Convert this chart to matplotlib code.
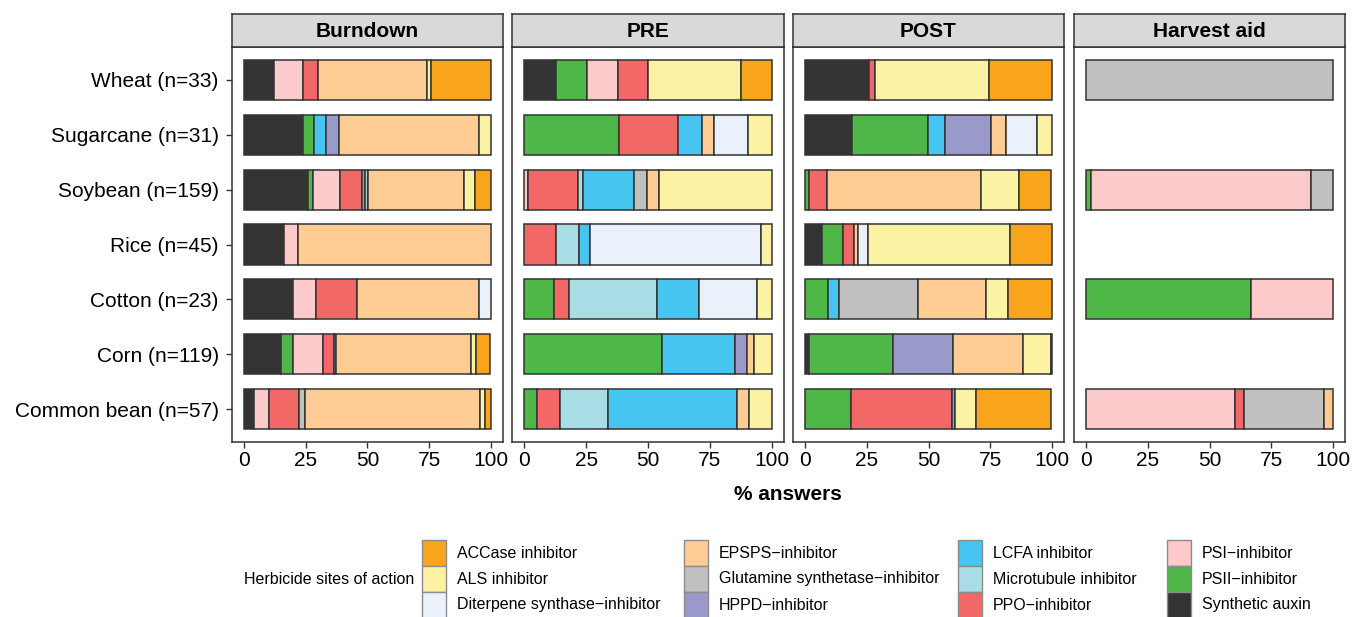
import matplotlib.pyplot as plt
from matplotlib.patches import Rectangle

plt.rcParams['font.family'] = ['Liberation Sans', 'DejaVu Sans']

# crops, top to bottom
crops = ['Wheat (n=33)', 'Sugarcane (n=31)', 'Soybean (n=159)', 'Rice (n=45)',
         'Cotton (n=23)', 'Corn (n=119)', 'Common bean (n=57)']

# sites of action, in stacking order (left to right)
moa = ['Synthetic auxin', 'PSII\u2212inhibitor', 'PSI\u2212inhibitor', 'PPO\u2212inhibitor',
       'Microtubule inhibitor', 'LCFA inhibitor', 'HPPD\u2212inhibitor',
       'Glutamine synthetase\u2212inhibitor', 'EPSPS\u2212inhibitor',
       'Diterpene synthase\u2212inhibitor', 'ALS inhibitor', 'ACCase inhibitor']
moa_colors = ['#333333', '#4FB748', '#FCCACA', '#F26867', '#A8DDE5', '#45C5F0',
              '#9999CA', '#C0C0C0', '#FFCD93', '#EBF1FA', '#FBF2A4', '#F9A51C']
# legend goes the other way round
legend_order = list(range(len(moa)))[::-1]

timings = ['Burndown', 'PRE', 'POST', 'Harvest aid']

# % answers per site of action, one value per crop (same order as crops)
burndown = {
    'Synthetic auxin': [12.1, 23.8, 25.8, 16.2, 19.8, 14.8, 3.9],
    'PSII\u2212inhibitor': [0, 4.5, 2.0, 0, 0, 5.1, 0],
    'PSI\u2212inhibitor': [11.8, 0, 11.1, 5.7, 9.4, 11.9, 6.1],
    'PPO\u2212inhibitor': [6.0, 0, 9.0, 0, 16.6, 4.7, 12.1],
    'LCFA inhibitor': [0, 5.0, 1.1, 0, 0, 0.9, 0],
    'HPPD\u2212inhibitor': [0, 5.0, 0, 0, 0, 0, 0],
    'Glutamine synthetase\u2212inhibitor': [0, 0, 1.2, 0, 0, 0, 2.4],
    'EPSPS\u2212inhibitor': [44.1, 56.9, 39.0, 78.1, 49.3, 54.7, 71.0],
    'Diterpene synthase\u2212inhibitor': [0, 0, 0, 0, 4.9, 0, 0],
    'ALS inhibitor': [1.9, 4.9, 4.6, 0, 0, 2.0, 2.3],
    'ACCase inhibitor': [24.1, 0, 6.2, 0, 0, 5.8, 2.2],
}
pre = {
    'Synthetic auxin': [12.8, 0, 0, 0, 0, 0, 0],
    'PSII\u2212inhibitor': [12.5, 38.4, 0, 0, 12.0, 55.5, 5.1],
    'PSI\u2212inhibitor': [12.4, 0, 1.6, 0, 0, 0, 0],
    'PPO\u2212inhibitor': [12.4, 23.7, 20.0, 12.8, 6.0, 0, 9.3],
    'Microtubule inhibitor': [0, 0, 2.0, 9.1, 35.8, 0, 19.4],
    'LCFA inhibitor': [0, 9.7, 20.7, 4.6, 16.8, 29.7, 52.0],
    'HPPD\u2212inhibitor': [0, 0, 0, 0, 0, 4.8, 0],
    'Glutamine synthetase\u2212inhibitor': [0, 0, 5.1, 0, 0, 0, 0],
    'EPSPS\u2212inhibitor': [0, 4.7, 5.0, 0, 0, 2.7, 5.0],
    'Diterpene synthase\u2212inhibitor': [0, 14.1, 0, 69.0, 23.5, 0, 0],
    'ALS inhibitor': [37.4, 9.4, 45.6, 4.6, 5.9, 7.3, 9.3],
    'ACCase inhibitor': [12.6, 0, 0, 0, 0, 0, 0],
}
post = {
    'Synthetic auxin': [25.9, 18.9, 0, 6.9, 0, 1.3, 0],
    'PSII\u2212inhibitor': [0, 30.9, 1.3, 8.4, 9.2, 34.3, 18.6],
    'PPO\u2212inhibitor': [2.2, 0, 7.4, 4.3, 0, 0, 40.9],
    'LCFA inhibitor': [0, 6.9, 0, 0, 4.5, 0, 1.3],
    'HPPD\u2212inhibitor': [0, 18.6, 0, 0, 0, 24.2, 0],
    'Glutamine synthetase\u2212inhibitor': [0, 0, 0, 0, 32.0, 0, 0],
    'EPSPS\u2212inhibitor': [0, 6.3, 62.5, 1.8, 27.7, 28.7, 0],
    'Diterpene synthase\u2212inhibitor': [0, 12.3, 0, 4.0, 0, 0, 0],
    'ALS inhibitor': [46.4, 6.1, 15.5, 57.6, 9.0, 11.1, 8.6],
    'ACCase inhibitor': [25.5, 0, 13.2, 17.0, 17.7, 0.4, 30.5],
}
harvest = {
    'PSII\u2212inhibitor': [0, 0, 2.0, 0, 66.9, 0, 0],
    'PSI\u2212inhibitor': [0, 0, 89.3, 0, 33.1, 0, 60.2],
    'PPO\u2212inhibitor': [0, 0, 0, 0, 0, 0, 4.0],
    'Glutamine synthetase\u2212inhibitor': [100.0, 0, 8.7, 0, 0, 0, 32.1],
    'EPSPS\u2212inhibitor': [0, 0, 0, 0, 0, 0, 3.7],
}
tables = [burndown, pre, post, harvest]

W, H = 1352, 617
fig = plt.figure(figsize=(W / 100, H / 100), dpi=100)


def px_axes(x0, y0, x1, y1):
    return fig.add_axes([x0 / W, 1 - y1 / H, (x1 - x0) / W, (y1 - y0) / H])


panel_x = [(232, 503), (512, 784), (793, 1064), (1074, 1345)]
edge = '#333333'
ypos = [len(crops) - i for i in range(len(crops))]

for k, (title, table) in enumerate(zip(timings, tables)):
    x0, x1 = panel_x[k]
    ax = px_axes(x0, 47, x1, 442)
    cum = [0.0] * len(crops)
    for name, col in zip(moa, moa_colors):
        vals = table.get(name, [0] * len(crops))
        for i, v in enumerate(vals):
            if v > 0:
                ax.barh(ypos[i], v, left=cum[i], height=0.73, color=col,
                        edgecolor=edge, linewidth=1.1)
            cum[i] += v
    ax.set_xlim(-5, 105)
    ax.set_ylim(0.4, len(crops) + 0.6)
    ax.set_xticks([0, 25, 50, 75, 100])
    ax.set_yticks(ypos)
    if k == 0:
        ax.set_yticklabels(crops)
        ax.tick_params(axis='y', pad=5)
    else:
        ax.tick_params(axis='y', left=False, labelleft=False)
    ax.tick_params(length=4.5, width=1, color=edge, labelsize=15,
                   labelcolor='black')
    ax.tick_params(axis='x', pad=2)
    for s in ax.spines.values():
        s.set_color(edge)
        s.set_linewidth(1.1)

    # facet strip
    sax = px_axes(x0, 14, x1, 47)
    sax.set_facecolor('#D9D9D9')
    sax.set_xticks([])
    sax.set_yticks([])
    for s in sax.spines.values():
        s.set_color(edge)
        s.set_linewidth(1.1)
    sax.text(0.5, 0.48, title, ha='center', va='center', fontsize=15,
             fontweight='bold', transform=sax.transAxes)

fig.text(788 / W, 1 - 495 / H, '% answers', ha='center', va='center',
         fontsize=15, fontweight='bold')

# legend, filled column by column
fig.text(244 / W, 1 - 579 / H, 'Herbicide sites of action', ha='left',
         va='center', fontsize=11.5)
key_x = [422, 684, 958, 1167]
row_y = [540, 566, 592]
for n, j in enumerate(legend_order):
    c, r = n // 3, n % 3
    kx, ky = key_x[c], row_y[r]
    fig.add_artist(Rectangle((kx / W, 1 - (ky + 26) / H), 24 / W, 26 / H,
                             transform=fig.transFigure, facecolor=moa_colors[j],
                             edgecolor='#8c8c8c', linewidth=1))
    fig.text((kx + 35) / W, 1 - (ky + 13) / H, moa[j], ha='left', va='center',
             fontsize=11.5)

fig.savefig('out.png', dpi=100)
